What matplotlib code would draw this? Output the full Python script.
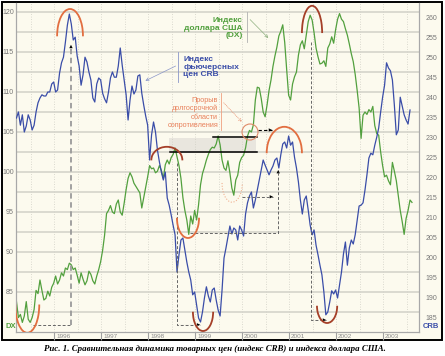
import numpy as np
import matplotlib
matplotlib.use('Agg')
import matplotlib.pyplot as plt
from matplotlib.patches import Arc, Ellipse, Rectangle

plt.rcParams['font.family'] = ['Liberation Sans', 'DejaVu Sans']

# полумесячные наблюдения, начиная с марта 1995 г.
t_start = 1995.2
t_step = 1 / 24

# индекс фьючерсных цен CRB (правая шкала)
crb = [235.0, 236.5, 233.2, 235.8, 231.5, 233.0, 235.8, 234.5, 232.0, 233.2,
       236.5, 238.8, 240.0, 240.8, 240.5, 240.5, 241.5, 241.5, 243.5, 244.0,
       241.5, 242.0, 246.2, 248.8, 250.2, 254.0, 258.2, 261.0, 258.5, 254.5,
       255.2, 250.5, 248.0, 243.2, 245.8, 250.2, 249.0, 246.5, 244.5, 240.0,
       239.0, 243.5, 245.0, 244.5, 241.2, 239.8, 238.8, 241.5, 245.0, 246.5,
       245.2, 245.2, 248.0, 252.5, 248.2, 244.5, 240.8, 234.5, 239.5, 243.0,
       241.0, 242.0, 245.5, 245.8, 241.2, 238.2, 235.5, 233.2, 224.5, 230.8,
       234.0, 231.5, 227.0, 224.0, 221.5, 219.5, 221.5, 215.0, 213.2, 210.8,
       208.2, 205.8, 196.5, 200.8, 204.5, 205.0, 202.0, 199.0, 196.5, 194.5,
       190.8, 191.5, 188.2, 185.0, 184.0, 186.5, 190.0, 192.8, 190.5, 189.0,
       192.0, 192.5, 189.5, 187.0, 185.5, 192.0, 200.0, 202.5, 205.2, 208.0,
       206.0, 207.5, 207.0, 204.5, 208.0, 207.0, 205.5, 211.0, 213.8, 215.5,
       216.5, 212.5, 214.5, 217.0, 219.5, 222.0, 224.5, 223.2, 222.0, 220.8,
       222.0, 223.0, 224.5, 225.0, 222.5, 225.8, 228.5, 229.0, 227.5, 230.5,
       228.2, 229.0, 225.2, 222.5, 219.0, 214.5, 211.0, 214.5, 215.5, 212.0,
       208.2, 205.8, 207.0, 203.2, 200.8, 198.2, 195.8, 191.5, 185.8, 186.5,
       189.0, 191.8, 191.0, 192.0, 190.0, 193.2, 196.5, 201.0, 204.0, 198.2,
       202.5, 204.5, 203.5, 205.8, 209.5, 213.0, 213.2, 213.8, 217.0, 220.8,
       225.0, 226.2, 225.8, 228.2, 230.2, 232.5, 236.5, 240.2, 243.2, 248.8,
       247.5, 246.8, 244.5, 238.2, 230.8, 232.0, 240.2, 238.0, 235.8, 234.5,
       233.5, 237.0]

# индекс доллара США DX (левая шкала)
dx = [83.8, 81.8, 82.2, 81.2, 82.0, 83.8, 81.6, 81.2, 81.8, 82.8,
      85.2, 84.8, 86.5, 85.2, 84.0, 84.2, 85.1, 84.5, 85.6, 86.1,
      87.0, 86.0, 86.5, 87.4, 87.0, 88.0, 87.8, 88.6, 88.4, 87.8,
      88.0, 87.1, 86.1, 87.4, 86.6, 85.9, 86.4, 87.6, 87.2, 86.4,
      86.0, 87.0, 87.8, 88.8, 90.2, 92.1, 94.8, 95.2, 95.8, 95.0,
      94.8, 96.0, 96.5, 95.0, 94.6, 96.1, 97.8, 99.2, 99.9, 99.4,
      98.6, 98.2, 97.8, 97.4, 95.5, 96.8, 98.1, 99.4, 100.8, 100.4,
      100.5, 99.9, 100.1, 100.8, 100.2, 99.2, 100.9, 101.5, 101.0, 101.8,
      102.2, 103.0, 101.9, 100.8, 99.2, 96.8, 95.2, 94.0, 92.2, 94.5,
      93.5, 95.2, 94.0, 95.9, 98.4, 99.8, 100.6, 101.5, 102.2, 102.8,
      103.1, 103.0, 103.5, 104.5, 103.4, 101.5, 100.5, 100.2, 101.4, 99.9,
      98.0, 97.1, 99.0, 99.6, 101.2, 101.8, 102.1, 103.0, 104.5, 105.2,
      105.0, 105.9, 109.0, 110.6, 110.5, 109.2, 107.5, 106.9, 108.4, 110.2,
      111.5, 113.2, 114.5, 115.6, 117.0, 117.6, 118.4, 116.2, 112.8, 109.6,
      109.0, 111.0, 111.9, 112.5, 114.6, 115.9, 116.4, 115.4, 117.1, 118.8,
      119.6, 119.0, 117.4, 115.5, 114.4, 113.5, 113.6, 113.9, 113.2, 115.5,
      116.0, 116.9, 116.1, 117.8, 119.1, 119.8, 119.1, 118.8, 117.9, 117.1,
      116.0, 114.8, 113.8, 112.2, 110.2, 108.0, 104.2, 107.1, 107.5, 107.2,
      107.8, 107.5, 108.2, 105.8, 104.8, 104.6, 102.5, 100.8, 99.4, 99.6,
      98.9, 98.4, 101.2, 100.1, 98.9, 97.1, 95.2, 93.8, 92.2, 94.2,
      95.2, 96.5, 96.2]

years = list(range(1996, 2004))
dx_ticks = [85, 90, 95, 100, 105, 110, 115, 120]
crb_ticks = [185, 190, 195, 200, 205, 210, 215, 220, 225, 230, 235, 240,
             245, 250, 255, 260]

t_crb = t_start + t_step * np.arange(len(crb))
t_dx = t_start + t_step * np.arange(len(dx))

BG = '#FCFAEE'
BLUE = '#3A4DA8'
GREEN = '#52A03E'
ORANGE = '#E26E40'
BROWN = '#A53F28'
GRID = '#D2D1C8'

W, H = 445, 356
fig = plt.figure(figsize=(W / 100, H / 100), dpi=100)
fig.patch.set_facecolor('white')
fig.patches.append(Rectangle((2 / W, 1 - 340 / H), 440 / W, 338 / H,
                             transform=fig.transFigure, facecolor=BG,
                             edgecolor='black', lw=1.4, zorder=-5))

ax = fig.add_axes([16 / W, 1 - 332 / H, 403 / W, 329 / H])
ax.set_facecolor(BG)
ax2 = ax.twinx()
T = ax.transData

# сетка
ax.set_xticks(years)
ax.set_xticks(np.arange(1995.5, 2004, 1), minor=True)
ax.set_yticks(dx_ticks)
ax.set_yticks(np.arange(82.5, 121, 5), minor=True)
ax.grid(axis='y', which='both', color=GRID, lw=1.1)
ax.grid(axis='x', which='both', color='#CFCFC4', lw=0.6, ls=(0, (1, 2)))
ax.tick_params(axis='y', which='both', length=0, labelsize=5,
               labelcolor='#777777', pad=1.5)
ax.tick_params(axis='x', which='major', length=6, color='#A0A0A0',
               labelbottom=False)
ax.tick_params(axis='x', which='minor', length=0)
for y in years:
    ax.text(y + 0.045, -0.013, str(y), transform=ax.get_xaxis_transform(),
            fontsize=4.6, color='#8A8A8A', ha='left', va='center')

ax2.set_yticks(crb_ticks)
ax2.tick_params(axis='y', length=0, labelsize=5, labelcolor='#777777', pad=5)
for a in (ax, ax2):
    a.spines['top'].set_visible(False)
    for s in ('left', 'right', 'bottom'):
        a.spines[s].set_color('#A8A8A8')
        a.spines[s].set_linewidth(0.8)

fig.text(5 / W, 1 - 327 / H, 'DX', color=GREEN, fontsize=5.5,
         fontweight='bold', ha='left', va='center')
fig.text(423 / W, 1 - 327 / H, 'CRB', color=BLUE, fontsize=5.5,
         fontweight='bold', ha='left', va='center')

# область сопротивления
ax.add_patch(Rectangle((1998.45, 102.5), 1.85, 1.75, facecolor='#E9E6DE',
                       edgecolor='none', zorder=0.8))

ax.plot(t_dx, dx, color=GREEN, lw=0.9, zorder=3)
ax2.plot(t_crb, crb, color=BLUE, lw=0.9, zorder=3)

# линии сопротивления
ax2.plot([1998.47, 2000.32], [102.5, 102.5], color='black', lw=1.1, transform=T)
ax2.plot([1999.38, 2000.32], [104.4, 104.4], color='black', lw=1.1, transform=T)


def dash_arrow(xs, ys, color='#666666', lw=0.7, head=True):
    ax2.plot(xs, ys, color=color, lw=lw, ls=(0, (3, 2)), transform=T, zorder=4)
    if head:
        ax2.annotate('', xy=(xs[-1], ys[-1]), xytext=(xs[-2], ys[-2]),
                     xycoords=T, textcoords=T,
                     arrowprops=dict(arrowstyle='-|>', color='black', lw=0.01,
                                     mutation_scale=6, shrinkA=0, shrinkB=0))


ax2.plot([1995.55, 1996.36], [80.9, 80.9], color='#666666', lw=0.7,
         ls=(0, (3, 2)), transform=T)
dash_arrow([1996.36, 1996.36], [80.9, 115.9], color='#9A9A9A', lw=1.3)
dash_arrow([1998.62, 1998.62, 1999.11], [101.1, 80.9, 80.9])
dash_arrow([1998.89, 2000.77, 2000.77], [92.4, 92.4, 100.25])
dash_arrow([2000.0, 2000.66], [96.9, 96.9])
dash_arrow([2001.47, 2001.47, 2001.79], [116.25, 81.5, 81.5])
dash_arrow([2000.34, 2000.64], [105.25, 105.25], color='black', lw=0.8)

# дуги на экстремумах
arcs = [((1996.34, 117.0), 0.55, 6.75, 0, 180, ORANGE),
        ((1995.43, 83.4), 0.51, 7.0, 180, 360, ORANGE),
        ((1998.40, 101.5), 0.66, 3.3, 0, 180, BROWN),
        ((1998.85, 94.25), 0.47, 5.0, 180, 360, ORANGE),
        ((1999.17, 82.5), 0.43, 4.75, 180, 360, BROWN),
        ((2000.90, 102.4), 0.75, 6.5, 0, 180, ORANGE),
        ((2001.49, 117.4), 0.43, 6.75, 0, 180, BROWN),
        ((2001.81, 83.25), 0.43, 4.25, 180, 360, BROWN)]
for c, w, h, a1, a2, col in arcs:
    ax2.add_patch(Arc(c, w, h, theta1=a1 - 8, theta2=a2 + 8, color=col,
                      lw=1.3, transform=T, zorder=5))
ax2.add_patch(Arc((1999.79, 98.6), 0.43, 4.75, theta1=172, theta2=368,
                  color='#F0B090', lw=0.8, ls=(0, (1, 1.5)), transform=T))
ax2.add_patch(Ellipse((2000.17, 105.0), 0.34, 2.0, fill=False,
                      edgecolor='#E08A68', lw=0.8, transform=T, zorder=5))

# подписи
ax2.text(2000.02, 118.0, 'Индекс\nдоллара США\n(DX)', transform=T,
         ha='right', va='center', color=GREEN, fontsize=6, fontweight='bold',
         linespacing=1.15)
ax2.plot([2000.11, 2000.11], [120.0, 116.25], color='#B0B0B0', lw=0.6,
         transform=T)
ax2.annotate('', xy=(2000.60, 116.5), xytext=(2000.13, 119.3), xycoords=T,
             textcoords=T, arrowprops=dict(arrowstyle='->', color='#8FB080',
                                           lw=0.5, mutation_scale=5))

ax2.text(1998.75, 113.1, 'Индекс\nфьючерсных\nцен CRB', transform=T,
         ha='left', va='center', color=BLUE, fontsize=6, fontweight='bold',
         linespacing=1.15)
ax2.plot([1998.64, 1998.64], [115.0, 111.25], color='#8A96C8', lw=0.6,
         transform=T)
ax2.annotate('', xy=(1997.89, 111.25), xytext=(1998.64, 113.4), xycoords=T,
             textcoords=T, arrowprops=dict(arrowstyle='->', color='#8A96C8',
                                           lw=0.5, mutation_scale=5))

ax2.text(1999.49, 107.4, 'Прорыв\nдолгосрочной\nобласти\nсопротивления',
         transform=T, ha='right', va='center', color='#E8805A', fontsize=5.2,
         linespacing=1.25)
ax2.plot([1999.55, 1999.55], [109.9, 105.25], color='#F0A080', lw=0.6,
         transform=T)
ax2.annotate('', xy=(2000.04, 106.0), xytext=(1999.57, 108.9), xycoords=T,
             textcoords=T, arrowprops=dict(arrowstyle='->', color='#E89070',
                                           lw=0.5, ls=':', mutation_scale=5))

ax.set_xlim(1995.19, 2003.766)
ax.set_ylim(80, 121.125)
ax2.set_ylim(181.5, 263.75)

fig.text(214.5 / W, 1 - 349 / H,
         'Рис. 1. Сравнительная динамика товарных цен (индекс CRB) и индекса доллара США.',
         ha='center', va='center', fontsize=6.4, fontstyle='italic',
         fontweight='bold', family=['Liberation Serif', 'DejaVu Serif'])

fig.savefig('out.png', dpi=100, facecolor='white')
